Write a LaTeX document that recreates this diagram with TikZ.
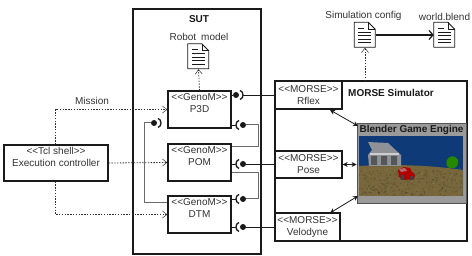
\documentclass[tikz,border=0pt]{standalone}
\usepackage{fontspec}
\setmainfont{Liberation Sans}
\usetikzlibrary{arrows.meta}
\definecolor{ink}{HTML}{1A1A1A}
\definecolor{textgrey}{HTML}{333333}
\definecolor{enginegrey}{HTML}{9A9A9A}
\definecolor{skyblue}{HTML}{0E3A78}
\definecolor{soil}{HTML}{77663C}
\definecolor{wall}{HTML}{8E9296}
\tikzset{
  x=1pt, y=-1pt,
  every node/.style={font=\fontsize{10}{12}\selectfont, text=textgrey},
  frame/.style={draw=ink, line width=1.3pt, inner sep=0pt, fill=white},
  titletext/.style={font=\fontsize{10}{12}\selectfont\bfseries, text=ink, inner sep=0pt},
  plain/.style={inner sep=0pt},
  wire/.style={draw=ink, line width=0.9pt},
  graywire/.style={draw=ink!65, line width=1pt},
  depend/.style={draw=ink!90, line width=0.8pt, dash pattern=on 1.4pt off 1.4pt, -{Straight Barb[length=4.5pt,width=7pt,line width=0.5pt]}},
  duplex/.style={draw=ink, line width=0.8pt, {Stealth[length=5pt,width=5pt]}-{Stealth[length=5pt,width=5pt]}},
  ball/.style={circle, fill=ink, inner sep=0pt, minimum size=6pt},
  docbox/.style={inner sep=0pt, minimum width=21pt, minimum height=25pt},
}
% two-line stereotype label centred in its box
\newcommand{\stereo}[2]{<{}<#1>{}>\\#2}
% the same label set high in its box by an empty third line
\newcommand{\stereohigh}[2]{<{}<#1>{}>\\#2\\\mbox{}}
% page icon with a folded corner, centred on a named node
\newcommand{\docicon}[3]{%
  \node[docbox] (#1) at (#2,#3) {};
  \begin{scope}[shift={(#1.north west)}]
    \draw[ink, line width=0.85pt, fill=white, line join=round] (0,0) -- (14,0) -- (21,7) -- (21,25) -- (0,25) -- cycle;
    \draw[ink, line width=0.6pt] (14,0) -- (14,7) -- (21,7);
    \draw[ink, line width=0.65pt] (4,6) -- (10,6) (4,10) -- (17,10) (4,13.5) -- (17,13.5) (4,17) -- (17,17) (4,20.5) -- (17,20.5);
  \end{scope}}
% required-interface cup opening to the left or to the right
\newcommand{\cupright}[2]{\draw[ink, line width=1.3pt] (#1-2,#2-4.5) .. controls (#1+2,#2-3.5) and (#1+2,#2+3.5) .. (#1-2,#2+4.5);}
\newcommand{\cupleft}[2]{\draw[ink, line width=1.3pt] (#1+2,#2-4.5) .. controls (#1-2,#2-3.5) and (#1-2,#2+3.5) .. (#1+2,#2+4.5);}
\begin{document}
\begin{tikzpicture}
\useasboundingbox (0,0) rectangle (472,256);
\fill[white] (0,0) rectangle (472,256);

% system under test
\node[frame, minimum width=128pt, minimum height=245pt] (sut) at (197,131.5) {};
\node[titletext] (suttitle) at (199,19) {SUT};

% MORSE simulator frame and its sensors
\node[frame, minimum width=192pt, minimum height=160pt] (sim) at (371,161) {};
\node[titletext, anchor=west] (simtitle) at (348,93) {MORSE Simulator};

% game engine panel with a rendered scene
\node[draw=ink!75, line width=0.9pt, fill=enginegrey, minimum width=109pt, minimum height=80pt, inner sep=0pt] (engine) at (411.5,163) {};
\begin{scope}
  \clip (359,136) rectangle (463,196);
  \fill[skyblue] (359,136) rectangle (463,196);
  \fill[soil] (359,166) .. controls (390,164) and (430,165) .. (463,170) -- (463,196) -- (359,196) -- cycle;
  % speckled ground
  \pgfmathsetseed{7}
  \foreach \i in {1,...,220}{
    \pgfmathsetmacro{\px}{359+104*rnd}
    \pgfmathsetmacro{\py}{170+26*rnd}
    \fill[black!60!soil, opacity=0.3] (\px,\py) circle (0.8pt);
    \pgfmathsetmacro{\qx}{359+104*rnd}
    \pgfmathsetmacro{\qy}{168+28*rnd}
    \fill[yellow!20!soil, opacity=0.2] (\qx,\qy) circle (0.8pt);
  }
  \fill[wall] (368,142) -- (388,143) -- (401,155) -- (401,166) -- (369,166) -- (368,155) -- (372,150) -- cycle;
  \fill[wall!60!black] (371,156) rectangle (377,165) (381,156) rectangle (387,165) (391,156) rectangle (397,165);
  \fill[wall!45!white] (370,153) rectangle (399,155);
  \fill[green!45!black!85!yellow] (447,160) .. controls (449,155) and (456,155) .. (458,160) .. controls (459,165) and (456,169) .. (452,168) .. controls (448,169) and (445,165) .. (447,160) -- cycle;
  \fill[red!70!black] (398,170) -- (404,167) -- (410,168) -- (412,172) -- (415,175) -- (414,179) -- (403,180) -- (399,177) -- cycle;
  \fill[red!40!white!70!black] (399,169) -- (405,168) -- (407,171) -- (401,172) -- cycle;
  \fill[black!75] (401,175) rectangle (404,180) (410,176) rectangle (413,180);
\end{scope}
\node[titletext] (enginetitle) at (411.5,129.5) {Blender Game Engine};

\node[frame, minimum width=67pt, minimum height=28pt, align=center] (rflex) at (308.5,95) {\stereo{MORSE}{Rflex}};
\node[frame, minimum width=67pt, minimum height=27pt, align=center] (pose) at (308.5,164.5) {\stereo{MORSE}{Pose}};
\node[frame, minimum width=65pt, minimum height=28pt, align=center] (velodyne) at (307.5,227) {\stereo{MORSE}{Velodyne}};

% GenoM components
\node[frame, minimum width=63pt, minimum height=37pt, align=center] (p3d) at (199.5,109.5) {\stereohigh{GenoM}{P3D}};
\node[frame, minimum width=63pt, minimum height=37pt, align=center] (pom) at (199.5,162.5) {\stereohigh{GenoM}{POM}};
\node[frame, minimum width=63pt, minimum height=37pt, align=center] (dtm) at (199.5,214.5) {\stereohigh{GenoM}{DTM}};

% shell that drives the components
\node[frame, minimum width=104pt, minimum height=36pt, align=center] (shell) at (56,163) {\stereohigh{Tcl shell}{Execution controller}};

% documents
\node[plain] (robotlabel) at (199,37) {Robot\hspace{5pt}model};
\docicon{robotdoc}{198.5}{56.5}
\node[plain] (configlabel) at (363.5,16) {Simulation config};
\docicon{configdoc}{365}{35}
\node[plain] (worldlabel) at (444.5,16.5) {world.blend};
\docicon{worlddoc}{444.5}{35}
\node[plain] (missionlabel) at (92,101) {Mission};

% dependencies
\draw[depend] (p3d.north) -- (robotdoc.south);
\coordinate (simtop) at (365,81);
\draw[depend] (simtop) -- (configdoc.south);
\draw[line width=1.2pt, ink, -{Straight Barb[length=4pt,width=9pt,line width=1.2pt]}] (configdoc.east) -- (worlddoc.west);
\coordinate (missionbend) at (55.5,109.5);
\draw[depend] (shell.north -| missionbend) -- (missionbend) -- (p3d.west);
\draw[depend] (shell.east) -- (pom.west);
\coordinate (dtmbend) at (55.5,214.5);
\draw[depend] (shell.south -| dtmbend) -- (dtmbend) -- (dtm.west);

% engine links to the sensors
\coordinate (rflexlink) at (330,110);
\coordinate (enginelinka) at (358,126);
\coordinate (velolink) at (330,213);
\coordinate (enginelinkb) at (358,196);
\draw[duplex] (rflexlink) -- (enginelinka);
\draw[duplex] (pose.east) -- (engine.west |- pose.east);
\draw[duplex] (velolink) -- (enginelinkb);

% provided and required interfaces
\node[ball] (ballp3dtop) at (236,95) {};
\draw[wire] (p3d.east |- ballp3dtop) -- (ballp3dtop);
\cupright{242}{95}
\draw[wire] (242.5,95) -- (rflex.west |- ballp3dtop);

\node[ball] (ballp3dleft) at (154,123) {};
\cupright{160}{123}
\coordinate (leftbend) at (144,123);
\coordinate (leftbottom) at (144,203);
\draw[graywire] (ballp3dleft) -- (leftbend) -- (leftbottom) -- (dtm.west |- leftbottom);

\node[ball] (ballp3dlow) at (243,125) {};
\cupleft{237}{125}
\coordinate (rightbenda) at (258,125);
\coordinate (rightbendb) at (258,147);
\draw[wire] (p3d.east |- ballp3dlow) -- (236,125);
\draw[graywire] (ballp3dlow) -- (rightbenda) -- (rightbendb) -- (pom.east |- rightbendb);

\node[ball] (ballpom) at (243,164) {};
\cupleft{237}{164}
\draw[wire] (pom.east |- ballpom) -- (236,164);
\draw[wire] (ballpom) -- (pose.west |- ballpom);

\node[ball] (balldtmtop) at (243,199) {};
\cupleft{237}{199}
\coordinate (rightbendc) at (258,173);
\coordinate (rightbendd) at (258,199);
\draw[wire] (dtm.east |- balldtmtop) -- (236,199);
\draw[graywire] (pom.east |- rightbendc) -- (rightbendc) -- (rightbendd) -- (balldtmtop);

\node[ball] (balldtmlow) at (243,227) {};
\cupleft{237}{227}
\draw[wire] (dtm.east |- balldtmlow) -- (236,227);
\draw[wire] (balldtmlow) -- (velodyne.west |- balldtmlow);
\end{tikzpicture}
\end{document}
